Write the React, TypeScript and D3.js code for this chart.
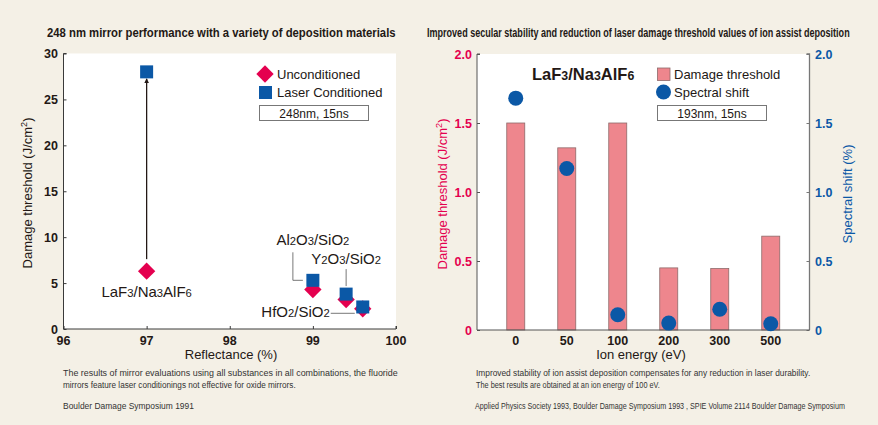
import React, { useEffect, useRef } from 'react';
import * as d3 from 'd3';

// left chart: mirror performance
const materials = ['LaF3/Na3AlF6', 'Al2O3/SiO2', 'Y2O3/SiO2', 'HfO2/SiO2'];
const reflectance = [97, 99, 99.4, 99.6];
const unconditioned = [6.3, 4.3, 3.2, 2.2];
const laserConditioned = [28, 5.3, 3.8, 2.4];
const reflectanceTicks = [96, 97, 98, 99, 100];
const thresholdTicks = [0, 5, 10, 15, 20, 25, 30];

// right chart: ion assist deposition
const ionEnergies = ['0', '50', '100', '200', '300', '500'];
const damageThreshold = [1.5, 1.32, 1.5, 0.45, 0.445, 0.68];
const spectralShift = [1.68, 1.17, 0.11, 0.05, 0.15, 0.045];
const rightTicks = [0, 0.5, 1.0, 1.5, 2.0];

const BG = '#f4f0e6';
const RED = '#e4004f';
const BLUE = '#0b58a6';
const SANS = '"Liberation Sans", Arial, sans-serif';

type TextSel = d3.Selection<SVGTextElement, unknown, null, undefined>;

// chemical formula: digits drawn smaller
function formula(text: TextSel, str: string, size: number) {
  const parts = str.match(/\d+|\D+/g) || [];
  parts.forEach(p => {
    text.append('tspan')
      .attr('font-size', /\d/.test(p) ? size * 0.75 : size)
      .text(p);
  });
  return text;
}

// squeeze a text horizontally to a given width (condensed look)
function fitText(sel: TextSel, x: number, y: number, width: number) {
  sel.attr('x', 0).attr('y', 0);
  const w = (sel.node() as SVGTextElement).getComputedTextLength() || width;
  sel.attr('transform', `translate(${x},${y}) scale(${width / w},1)`);
}

function damageTitle(g: d3.Selection<SVGGElement, unknown, null, undefined>, x: number, y: number, color: string) {
  const t = g.append('text')
    .attr('transform', `translate(${x},${y}) rotate(-90)`)
    .attr('text-anchor', 'middle')
    .attr('font-size', 13)
    .attr('fill', color);
  t.append('tspan').text('Damage threshold (J/cm');
  t.append('tspan').attr('font-size', 9).attr('dy', -5).text('2');
  t.append('tspan').attr('dy', 5).text(')');
}

export default function App() {
  const svgRef = useRef<SVGSVGElement>(null);

  useEffect(() => {
    if (!svgRef.current) return;
    const svg = d3.select(svgRef.current);
    svg.selectAll('*').remove();

    svg.append('rect').attr('width', 878).attr('height', 425).attr('fill', BG);

    // titles
    const titles: [number, number, number, string][] = [
      [47, 37, 349, '248 nm mirror performance with a variety of deposition materials'],
      [427, 37, 423, 'Improved secular stability and reduction of laser damage threshold values of ion assist deposition'],
    ];
    titles.forEach(([x, y, w, s]) => {
      const t = svg.append('text')
        .attr('font-family', SANS).attr('font-weight', 'bold').attr('font-size', 13)
        .attr('fill', '#231815').text(s);
      fitText(t, x, y, w);
    });

    // ---------- left chart ----------
    const L = svg.append('g').attr('font-family', SANS);
    const x1 = d3.scaleLinear().domain([96, 100]).range([63.5, 396]);
    const y1 = d3.scaleLinear().domain([0, 30]).range([329, 53.5]);

    L.append('rect')
      .attr('x', x1(96)).attr('y', y1(30))
      .attr('width', x1(100) - x1(96)).attr('height', y1(0) - y1(30))
      .attr('fill', '#fff');

    const yAx1 = L.append('g')
      .attr('transform', `translate(${x1(96)},0)`)
      .call(d3.axisRight(y1).tickValues(thresholdTicks).tickSize(3).tickFormat(() => ''));
    yAx1.select('.domain').attr('stroke', '#3a3a3a').attr('d', `M3,${y1(30)}H0V${y1(0)}`);
    yAx1.selectAll('.tick line').attr('stroke', '#3a3a3a');

    const xAx1 = L.append('g')
      .attr('transform', `translate(0,${y1(0)})`)
      .call(d3.axisTop(x1).tickValues(reflectanceTicks).tickSize(3).tickFormat(() => ''));
    xAx1.select('.domain').attr('stroke', '#3a3a3a').attr('d', `M${x1(96)},0H${x1(100)}V-3`);
    xAx1.selectAll('.tick line').attr('stroke', '#3a3a3a');

    L.selectAll('.ylab1').data(thresholdTicks).enter().append('text')
      .attr('x', 58).attr('y', d => y1(d) + 4.5)
      .attr('text-anchor', 'end').attr('font-weight', 'bold').attr('font-size', 12.5)
      .attr('fill', '#231815')
      .text(d => d);
    L.selectAll('.xlab1').data(reflectanceTicks).enter().append('text')
      .attr('x', d => x1(d)).attr('y', 345)
      .attr('text-anchor', 'middle').attr('font-weight', 'bold').attr('font-size', 12.5)
      .attr('fill', '#231815')
      .text(d => d);

    damageTitle(L, 32, 193, '#231815');
    L.append('text')
      .attr('x', 231).attr('y', 359)
      .attr('text-anchor', 'middle').attr('font-size', 13).attr('fill', '#231815')
      .text('Reflectance (%)');

    // arrow for LaF3
    const defs = svg.append('defs');
    defs.append('marker')
      .attr('id', 'arrowhead')
      .attr('viewBox', '0 0 10 10').attr('refX', 9).attr('refY', 5)
      .attr('markerWidth', 5).attr('markerHeight', 6)
      .attr('markerUnits', 'userSpaceOnUse')
      .attr('orient', 'auto')
      .append('path').attr('d', 'M0,0L10,5L0,10z').attr('fill', '#231815');
    L.append('line')
      .attr('x1', x1(reflectance[0])).attr('x2', x1(reflectance[0]))
      .attr('y1', y1(unconditioned[0]) - 12).attr('y2', y1(laserConditioned[0]) + 7)
      .attr('stroke', '#231815').attr('stroke-width', 1.3)
      .attr('marker-end', 'url(#arrowhead)');

    const diamond = d3.symbol().type(d3.symbolSquare).size(150);
    // unconditioned diamonds first, conditioned squares drawn on top
    L.selectAll('.unc').data(unconditioned).enter().append('path')
      .attr('d', diamond)
      .attr('transform', (d, i) => `translate(${x1(reflectance[i])},${y1(d)}) rotate(45)`)
      .attr('fill', RED);
    L.selectAll('.cond').data(laserConditioned).enter().append('rect')
      .attr('x', (d, i) => x1(reflectance[i]) - 6.5).attr('y', d => y1(d) - 6.5)
      .attr('width', 13).attr('height', 13)
      .attr('fill', BLUE);

    // material labels
    const lab = (i: number, dx: number, dy: number, anchor: string) => {
      const t = L.append('text')
        .attr('x', x1(reflectance[i]) + dx).attr('y', y1(unconditioned[i]) + dy)
        .attr('text-anchor', anchor).attr('font-size', 15).attr('fill', '#231815');
      formula(t, materials[i], 15);
    };
    lab(0, 0, 26, 'middle');
    lab(1, 0, -45, 'middle');
    lab(2, 0, -36, 'middle');
    lab(3, -33, 8.5, 'end');

    const leader = d3.line();
    const ax = x1(reflectance[1]), ay = y1(laserConditioned[1]);
    const bx = x1(reflectance[2]), by = y1(laserConditioned[2]);
    const cx = x1(reflectance[3]), cy = y1(unconditioned[3]);
    L.append('path')
      .attr('d', leader([[ax - 20, ay - 28], [ax - 20, ay], [ax - 10, ay]]))
      .attr('fill', 'none').attr('stroke', '#555').attr('stroke-width', 0.8);
    L.append('path')
      .attr('d', leader([[bx, by - 25], [bx, by - 8]]))
      .attr('fill', 'none').attr('stroke', '#555').attr('stroke-width', 0.8);
    L.append('path')
      .attr('d', leader([[cx - 32, cy + 4.5], [cx - 8, cy + 4.5]]))
      .attr('fill', 'none').attr('stroke', '#555').attr('stroke-width', 0.8);

    // left legend
    L.append('path').attr('d', diamond).attr('transform', 'translate(265,74) rotate(45)').attr('fill', RED);
    L.append('rect').attr('x', 259).attr('y', 86).attr('width', 13).attr('height', 13).attr('fill', BLUE);
    L.append('text').attr('x', 277).attr('y', 79).attr('font-size', 13).attr('fill', '#231815').text('Unconditioned');
    L.append('text').attr('x', 277).attr('y', 97).attr('font-size', 13).attr('fill', '#231815').text('Laser Conditioned');
    L.append('rect').attr('x', 259.5).attr('y', 105.5).attr('width', 109).attr('height', 15)
      .attr('fill', '#fff').attr('stroke', '#777').attr('stroke-width', 1);
    L.append('text').attr('x', 314).attr('y', 117.5).attr('text-anchor', 'middle')
      .attr('font-size', 12).attr('fill', '#231815').text('248nm, 15ns');

    // ---------- right chart ----------
    const R = svg.append('g').attr('font-family', SANS);
    const x2 = d3.scalePoint().domain(ionEnergies).range([477, 809.5]).padding(0.76);
    const y2 = d3.scaleLinear().domain([0, 2]).range([330, 54]);
    const y2r = d3.scaleLinear().domain([0, 2]).range([330, 54]);

    R.append('rect')
      .attr('x', 477).attr('y', y2(2))
      .attr('width', 809.5 - 477).attr('height', y2(0) - y2(2))
      .attr('fill', '#fff');

    R.selectAll('.bar').data(damageThreshold).enter().append('rect')
      .attr('x', (d, i) => (x2(ionEnergies[i]) as number) - 9)
      .attr('y', d => y2(d))
      .attr('width', 18)
      .attr('height', d => y2(0) - y2(d))
      .attr('fill', '#ee868d').attr('stroke', '#8d6a6a').attr('stroke-width', 0.8);

    const yAx2 = R.append('g')
      .attr('transform', 'translate(477,0)')
      .call(d3.axisRight(y2).tickValues(rightTicks).tickSize(3).tickFormat(() => ''));
    yAx2.select('.domain').attr('stroke', '#555').attr('d', `M3,${y2(2)}H0V${y2(0)}`);
    yAx2.selectAll('.tick line').attr('stroke', '#555');
    const yAx2r = R.append('g')
      .attr('transform', 'translate(809.5,0)')
      .call(d3.axisLeft(y2r).tickValues(rightTicks).tickSize(3).tickFormat(() => ''));
    yAx2r.select('.domain').attr('stroke', '#777').attr('stroke-width', 1.3).attr('d', `M-3,${y2r(2)}H0V${y2r(0)}`);
    yAx2r.selectAll('.tick line').attr('stroke', '#777');
    R.append('line').attr('x1', 477).attr('x2', 809.5).attr('y1', y2(0)).attr('y2', y2(0))
      .attr('stroke', '#555');

    R.selectAll('.dot').data(spectralShift).enter().append('circle')
      .attr('cx', (d, i) => x2(ionEnergies[i]) as number)
      .attr('cy', d => y2r(d))
      .attr('r', 7.5)
      .attr('fill', BLUE);

    const fmt = (d: number) => (d === 0 ? '0' : d.toFixed(1));
    R.selectAll('.ylab2').data(rightTicks).enter().append('text')
      .attr('x', 472).attr('y', d => y2(d) + 4.5)
      .attr('text-anchor', 'end').attr('font-weight', 'bold').attr('font-size', 12.5)
      .attr('fill', RED).text(fmt);
    R.selectAll('.ylab2r').data(rightTicks).enter().append('text')
      .attr('x', 815).attr('y', d => y2r(d) + 4.5)
      .attr('text-anchor', 'start').attr('font-weight', 'bold').attr('font-size', 12.5)
      .attr('fill', BLUE).text(fmt);
    R.selectAll('.xlab2').data(ionEnergies).enter().append('text')
      .attr('x', d => x2(d) as number).attr('y', 345)
      .attr('text-anchor', 'middle').attr('font-weight', 'bold').attr('font-size', 12.5)
      .attr('fill', '#231815').text(d => d);

    damageTitle(R, 447, 194, RED);
    R.append('text')
      .attr('transform', 'translate(852,194) rotate(-90)')
      .attr('text-anchor', 'middle').attr('font-size', 13).attr('fill', BLUE)
      .text('Spectral shift (%)');
    R.append('text')
      .attr('x', 641).attr('y', 359)
      .attr('text-anchor', 'middle').attr('font-size', 13).attr('fill', '#231815')
      .text('Ion energy (eV)');

    // right legend
    formula(R.append('text').attr('x', 532).attr('y', 80).attr('font-size', 16.5)
      .attr('font-weight', 'bold').attr('fill', '#231815'), 'LaF3/Na3AlF6', 16.5);
    R.append('rect').attr('x', 657.5).attr('y', 68).attr('width', 12.5).attr('height', 12.5)
      .attr('fill', '#ee868d').attr('stroke', '#8d6a6a').attr('stroke-width', 0.8);
    R.append('circle').attr('cx', 663.5).attr('cy', 92).attr('r', 7.5).attr('fill', BLUE);
    R.append('text').attr('x', 674).attr('y', 79).attr('font-size', 13).attr('fill', '#231815').text('Damage threshold');
    R.append('text').attr('x', 674).attr('y', 97).attr('font-size', 13).attr('fill', '#231815').text('Spectral shift');
    R.append('rect').attr('x', 657.5).attr('y', 105.5).attr('width', 109).attr('height', 15)
      .attr('fill', '#fff').attr('stroke', '#777').attr('stroke-width', 1);
    R.append('text').attr('x', 712).attr('y', 117.5).attr('text-anchor', 'middle')
      .attr('font-size', 12).attr('fill', '#231815').text('193nm, 15ns');

    // footnotes
    const notes: [number, number, number, string][] = [
      [63, 376, 335, 'The results of mirror evaluations using all substances in all combinations, the fluoride'],
      [63, 388, 233, 'mirrors feature laser conditionings not effective for oxide mirrors.'],
      [63, 409, 131, 'Boulder Damage Symposium 1991'],
      [476, 376, 335, 'Improved stability of ion assist deposition compensates for any reduction in laser durability.'],
      [476, 388, 184, 'The best results are obtained at an ion energy of 100 eV.'],
      [475, 409, 370, 'Applied Physics Society 1993, Boulder Damage Symposium 1993 , SPIE Volume 2114 Boulder Damage Symposium'],
    ];
    const ng = svg.append('g').attr('font-family', SANS).attr('font-size', 8.5).attr('fill', '#333');
    notes.forEach(([x, y, w, s]) => {
      fitText(ng.append('text').text(s) as unknown as TextSel, x, y, w);
    });
  }, []);

  return (
    <div style={{ position: 'absolute', left: 0, top: 0 }}>
      <svg ref={svgRef} width={878} height={425} style={{ display: 'block' }} />
    </div>
  );
}
